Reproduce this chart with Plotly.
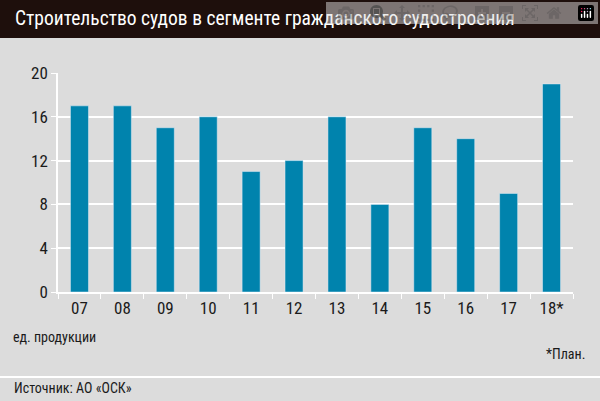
import plotly.graph_objects as go

years = ["07", "08", "09", "10", "11", "12", "13", "14", "15", "16", "17", "18*"]
ships = [17, 17, 15, 16, 11, 12, 16, 8, 15, 14, 9, 19]
y_ticks = [0, 4, 8, 12, 16, 20]

FONT = "Liberation Sans Narrow, Roboto Condensed, Arial Narrow, sans-serif"
BG = "#dcdcdc"

fig = go.Figure(go.Bar(x=years, y=ships, marker_color="#0083ad", width=0.42))

fig.update_layout(
    width=600, height=401,
    paper_bgcolor=BG, plot_bgcolor=BG,
    margin=dict(l=58, r=27, t=73, b=109),
    font=dict(family=FONT, size=16, color="#1a1a1a"),
    showlegend=False,
    shapes=[
        dict(type="rect", xref="paper", yref="paper", x0=-58/515, x1=1 + 27/515,
             y0=1 + 35/219, y1=1 + 74/219, fillcolor="#1e0f0c", line_width=0, layer="below"),
        dict(type="line", xref="paper", yref="paper", x0=-58/515, x1=1 + 27/515,
             y0=-85/219, y1=-85/219, line=dict(color="white", width=2)),
    ],
    annotations=[
        dict(text="Строительство судов в сегменте гражданского судостроения", xref="paper", yref="paper",
             x=-45/515, y=1 + 54/219, xanchor="left", yanchor="middle", showarrow=False,
             font=dict(size=19.5, color="white", family=FONT)),
        dict(text="ед. продукции", xref="paper", yref="paper", x=-47/515, y=-45/219,
             xanchor="left", yanchor="middle", showarrow=False, font=dict(size=14)),
        dict(text="*План.", xref="paper", yref="paper", x=1 + 14/515, y=-62/219,
             xanchor="right", yanchor="middle", showarrow=False, font=dict(size=14)),
        dict(text="Источник: АО «ОСК»", xref="paper", yref="paper", x=-46/515, y=-96/219,
             xanchor="left", yanchor="middle", showarrow=False, font=dict(size=14)),
    ],
)
fig.update_yaxes(range=[0, 20], tickvals=y_ticks, showgrid=True, gridcolor="white", gridwidth=1.5,
                 zeroline=False, ticks="outside", ticklen=5, tickcolor="white",
                 showline=True, linecolor="white", linewidth=1.5, tickfont=dict(size=17))
fig.update_xaxes(showline=True, linecolor="white", linewidth=1.5, ticks="outside",
                 ticklen=5, tickcolor="white", tickson="boundaries", tickfont=dict(size=17))

fig.write_html("out.html", post_script="document.body.style.margin='0';")
